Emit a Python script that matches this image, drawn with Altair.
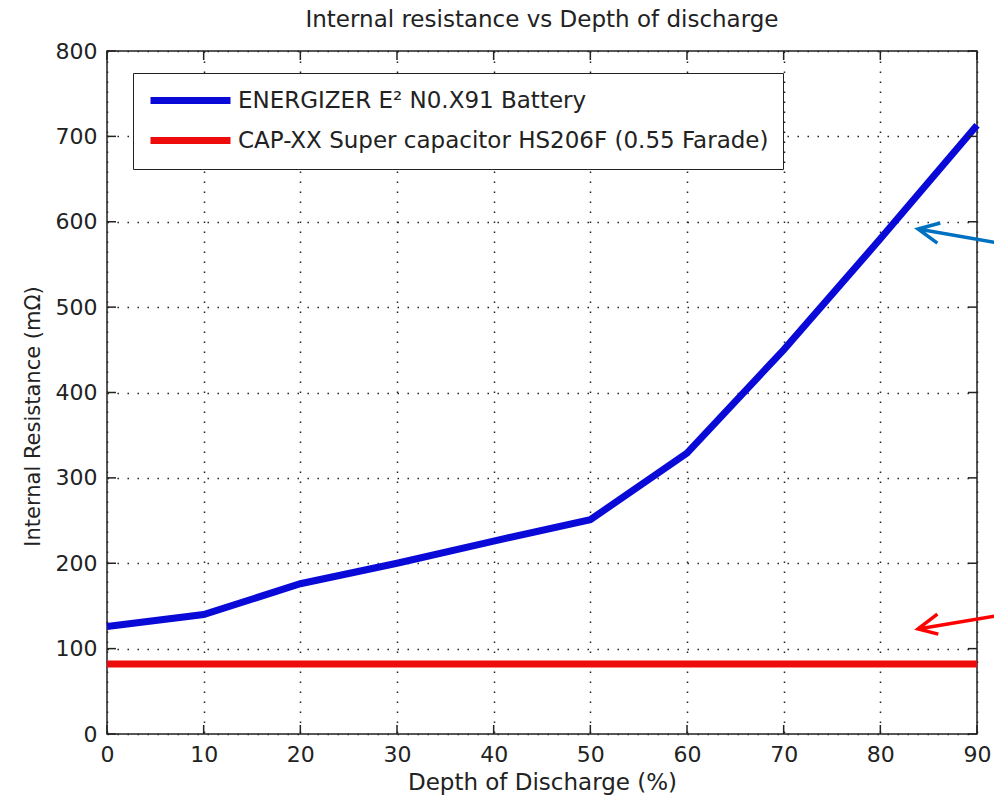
import altair as alt
import pandas as pd

depth = [0, 10, 20, 30, 40, 50, 60, 70, 80, 90]
battery = [126, 140, 176, 200, 226, 251, 329, 450, 580, 713]
capacitor = [82, 82, 82, 82, 82, 82, 82, 82, 82, 82]
series_names = ["ENERGIZER E² N0.X91 Battery", "CAP-XX Super capacitor HS206F (0.55 Farade)"]
series_colors = ["#0a0ad8", "#ee0b0b"]
x_ticks = [0, 10, 20, 30, 40, 50, 60, 70, 80, 90]
y_ticks = [0, 100, 200, 300, 400, 500, 600, 700, 800]

# annotation arrows (data coordinates): tail, tip, arm ends
blue_arrow_x = [91.8, 83.9, 86.2, 83.9, 85.9]
blue_arrow_y = [576, 591.5, 598.5, 591.5, 575]
red_arrow_x = [91.8, 83.9, 85.9, 83.9, 86.0]
red_arrow_y = [138, 123, 140.5, 123, 117]

FONT = "DejaVu Sans"
INK = "#222"

rows = []
for d, b, c in zip(depth, battery, capacitor):
    rows.append({"depth": d, "r": b, "series": series_names[0]})
    rows.append({"depth": d, "r": c, "series": series_names[1]})
df = pd.DataFrame(rows)

xs = alt.Scale(domain=[0, 90], nice=False, zero=False)
ys = alt.Scale(domain=[0, 800], nice=False)

axis_common = dict(grid=True, gridDash=[1.5, 8.5], gridColor=INK, gridWidth=1.5,
                   ticks=False, domain=False, labelFlush=False,
                   labelFont=FONT, labelFontSize=22, labelColor=INK,
                   titleFont=FONT, titleFontWeight="normal", titleColor=INK)

lines = alt.Chart(df).mark_line(strokeWidth=7, strokeCap="butt").encode(
    x=alt.X("depth:Q", scale=xs,
            axis=alt.Axis(values=x_ticks, title="Depth of Discharge (%)", titleFontSize=23,
                          labelPadding=10, titlePadding=6, **axis_common)),
    y=alt.Y("r:Q", scale=ys,
            axis=alt.Axis(values=y_ticks, title="Internal Resistance (mΩ)", titleFontSize=21,
                          labelPadding=10, titlePadding=12, titleY=365, titleAlign="center",
                          **axis_common)),
    color=alt.Color("series:N", scale=alt.Scale(domain=series_names, range=series_colors),
                    sort=series_names,
                    legend=alt.Legend(title=None, orient="none", legendX=26, legendY=22,
                                      symbolType="M-4,0L4,0", symbolStrokeWidth=7,
                                      symbolSize=400, symbolOffset=30,
                                      labelFontSize=23, labelFont=FONT,
                                      labelColor=INK, padding=14, rowPadding=11,
                                      labelOffset=34, strokeColor=INK, fillColor="white",
                                      labelLimit=800)),
)

xt = pd.DataFrame({"v": x_ticks})
yt = pd.DataFrame({"v": y_ticks})
tick_style = dict(color=INK, strokeWidth=1.5)
xtick_bot = alt.Chart(xt).mark_rule(**tick_style).encode(x=alt.X("v:Q", scale=xs), y=alt.value(683), y2=alt.value(674))
xtick_top = alt.Chart(xt).mark_rule(**tick_style).encode(x=alt.X("v:Q", scale=xs), y=alt.value(0), y2=alt.value(9))
ytick_l = alt.Chart(yt).mark_rule(**tick_style).encode(y=alt.Y("v:Q", scale=ys), x=alt.value(0), x2=alt.value(9))
ytick_r = alt.Chart(yt).mark_rule(**tick_style).encode(y=alt.Y("v:Q", scale=ys), x=alt.value(870), x2=alt.value(861))

def arrow(xv, yv, color):
    a = pd.DataFrame({"x": xv, "y": yv, "o": list(range(len(xv)))})
    return alt.Chart(a).mark_line(color=color, strokeWidth=3.5, clip=False).encode(
        x=alt.X("x:Q", scale=xs), y=alt.Y("y:Q", scale=ys), order="o:Q")

chart = alt.layer(
    lines, xtick_bot, xtick_top, ytick_l, ytick_r,
    arrow(blue_arrow_x, blue_arrow_y, "#0070c0"),
    arrow(red_arrow_x, red_arrow_y, "#ff0000"),
).properties(
    width=870, height=683,
    background="white",
    title=alt.Title("Internal resistance vs Depth of discharge", font=FONT, fontSize=23,
                    fontWeight="normal", color=INK, offset=8),
    autosize=alt.AutoSizeParams(type="none"),
    padding={"left": 107, "top": 51, "right": 17, "bottom": 74},
).configure_view(stroke=INK, strokeWidth=1.5)

chart.save("out.html", embed_options={"renderer": "svg", "actions": False})
